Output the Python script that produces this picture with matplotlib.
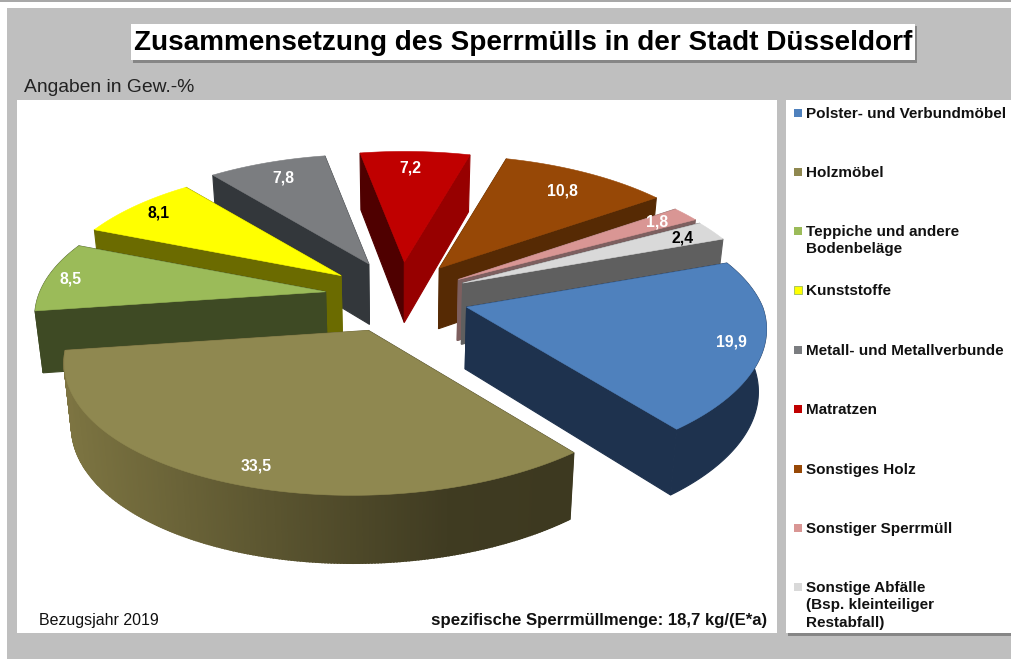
import matplotlib
matplotlib.use("Agg")
import matplotlib.pyplot as plt
from matplotlib.colors import to_rgb
from matplotlib.patches import Polygon, Rectangle
import numpy as np

plt.rcParams['font.family'] = ['Liberation Sans', 'DejaVu Sans']

title = "Zusammensetzung des Sperrmülls in der Stadt Düsseldorf"
categories = ["Polster- und Verbundmöbel", "Holzmöbel", "Teppiche und andere\nBodenbeläge",
              "Kunststoffe", "Metall- und Metallverbunde", "Matratzen", "Sonstiges Holz",
              "Sonstiger Sperrmüll", "Sonstige Abfälle\n(Bsp. kleinteiliger\nRestabfall)"]
values = [19.9, 33.5, 8.5, 8.1, 7.8, 7.2, 10.8, 1.8, 2.4]
value_labels = ["19,9", "33,5", "8,5", "8,1", "7,8", "7,2", "10,8", "1,8", "2,4"]

# styles
top_colors = ['#4f81bd', '#8f8850', '#9bbb59', '#ffff00', '#7b7d80', '#c00000', '#974806', '#d99694', '#d9d9d9']
side_colors = ['#1e324e', '#4c4728', '#3e4a24', '#6b6b00', '#33373b', '#970000', '#562a04', '#7d5f5f', '#5f5f5f']
label_colors = ['white', 'white', 'white', 'black', 'white', 'white', 'white', 'white', 'black']
explode = [68, 89, 76, 75, 78, 75, 67, 68, 68]
nudge_y = [3, -3, 0, 0, 0, 0, -3, 0, 0]
radius_scale = [1, 1, 0.965, 0.965, 0.97, 0.98, 1, 1, 1]
shear = [0.06, 0.1, 0, 0, 0, 0, 0, 0, 0]
label_dx = [7, 0, -8, 0, 5, -3, -3, 3, 6]
label_dy = [3, 6, 1, 0, 4, 3, 5, -1, 0]
draw_order = [5, 4, 3, 2, 6, 7, 8, 0, 1]

# pie geometry in pixels
CX, CY = 401, 296
R, RY, PERSP = 296, 134, 0.187
START = -20.5


def rim(phi, r=1.0, sh=0.0):
    # perspective view of a point on the pie plane
    phi = np.radians(phi)
    w = 1 - PERSP * np.sin(phi)
    x = r * R * np.cos(phi) / w
    y = r * RY * np.sin(phi) / w
    return x - sh * np.maximum(y, 0), y


def extrude(x, y):
    # bottom of the slice, edges lean slightly to the middle
    return x - (x - CX) * 0.022, y + 52 + 0.032 * y


def shade(color, x):
    # wall of the large front slice gets darker to the right
    c = np.array(to_rgb(color))
    f = np.interp(x, [60, 300, 450, 570], [1.65, 1.13, 0.83, 0.8])
    return np.clip(c * f, 0, 1)


fig = plt.figure(figsize=(10.12, 6.59), dpi=100)
ax = fig.add_axes([0, 0, 1, 1])
ax.set_xlim(0, 1012)
ax.set_ylim(659, 0)
ax.axis('off')

# page and panels
ax.add_patch(Rectangle((0, 0), 1012, 659, fc='white', ec='none'))
ax.add_patch(Rectangle((0, 0), 1012, 2, fc='#a8a8a8', ec='none'))
ax.add_patch(Rectangle((7, 8), 1005, 651, fc='#bfbfbf', ec='none'))
ax.add_patch(Rectangle((17, 100), 760, 533, fc='white', ec='none'))
ax.add_patch(Rectangle((788, 102), 224, 534, fc='#6f6f6f', ec='none', alpha=0.7))
ax.add_patch(Rectangle((786, 100), 226, 533, fc='white', ec='none'))
ax.add_patch(Rectangle((133, 26), 784, 37, fc='#6f6f6f', ec='none', alpha=0.7))
ax.add_patch(Rectangle((131, 24), 784, 36, fc='white', ec='none'))

ax.text(523, 43, title, fontsize=20.1, fontweight='bold', ha='center', va='center', color='black')
ax.text(24, 88, "Angaben in Gew.-%", fontsize=13.9, va='center', color='#222222')
ax.text(39, 621, "Bezugsjahr 2019", fontsize=11.5, va='center', color='#111111')
ax.text(767, 621, "spezifische Sperrmüllmenge: 18,7 kg/(E*a)", fontsize=12.05, fontweight='bold',
        ha='right', va='center', color='#111111')

# slice angles from the values
angles = np.cumsum([0] + values) / sum(values) * 360 + START

for i in draw_order:
    a0, a1 = angles[i], angles[i + 1]
    mid = np.radians((a0 + a1) / 2)
    ax0 = CX + explode[i] * np.cos(mid)
    ay0 = CY + explode[i] * RY / R * np.sin(mid) + nudge_y[i]
    phis = np.linspace(a0, a1, max(int(a1 - a0) * 2, 6))
    xs, ys = rim(phis, sh=shear[i])
    xs, ys = xs * radius_scale[i] + ax0, ys * radius_scale[i] + ay0
    bx, by = extrude(xs, ys)
    abx, aby = extrude(ax0, ay0)

    # radial faces first, the one further back before the other
    side_a = [(ax0, ay0), (xs[0], ys[0]), (bx[0], by[0]), (abx, aby)]
    side_b = [(ax0, ay0), (xs[-1], ys[-1]), (bx[-1], by[-1]), (abx, aby)]
    faces = sorted([side_a, side_b], key=lambda f: np.mean([p[1] for p in f]))
    for f in faces:
        col = side_colors[i]
        if i == 5 and f is side_a:
            col = '#4f0000'
        if i == 1:
            col = shade(col, np.mean([p[0] for p in f]))
        ax.add_patch(Polygon(f, closed=True, fc=col, ec=col, lw=0.8))

    # outer wall, one colour except the big slice with its gradient
    if i == 1:
        for j in range(len(xs) - 1):
            quad = [(xs[j], ys[j]), (xs[j + 1], ys[j + 1]), (bx[j + 1], by[j + 1]), (bx[j], by[j])]
            col = shade(side_colors[i], (xs[j] + xs[j + 1]) / 2)
            ax.add_patch(Polygon(quad, closed=True, fc=col, ec=col, lw=1.2))
    elif np.sin(mid) > -0.2 or i == 0:
        wall = np.column_stack([np.r_[xs, bx[::-1]], np.r_[ys, by[::-1]]])
        ax.add_patch(Polygon(wall, closed=True, fc=side_colors[i], ec=side_colors[i], lw=0.8))

    ax.add_patch(Polygon(np.column_stack([np.r_[ax0, xs], np.r_[ay0, ys]]), closed=True,
                         fc=top_colors[i], ec=top_colors[i], lw=0.4))

    lx, ly = rim((a0 + a1) / 2, 0.86)
    ax.text(ax0 + lx + label_dx[i], ay0 + ly + label_dy[i], value_labels[i], fontsize=11.3,
            fontweight='bold', ha='center', va='center', color=label_colors[i])

# legend, drawn by hand to keep the uneven rows
legend_y = [113, 172, 231, 290, 350, 409, 469, 528, 587]
for y, name, col in zip(legend_y, categories, top_colors):
    edge = '#9bbb59' if col == '#ffff00' else 'none'
    ax.add_patch(Rectangle((794, y - 4), 8, 8, fc=col, ec=edge, lw=0.6))
    ax.text(806, y - 6, name, fontsize=11, fontweight='bold', va='top', color='#111111', linespacing=1.3)

fig.savefig("out.png", dpi=100)
